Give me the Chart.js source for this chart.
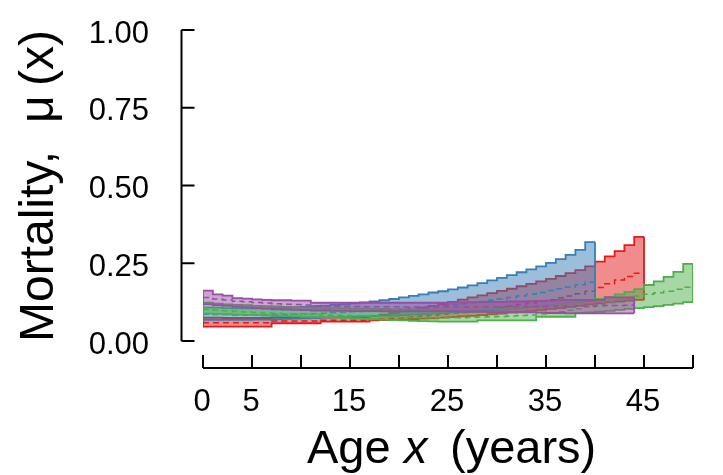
<!DOCTYPE html>
<html>
<head>
<meta charset="utf-8">
<script src="https://cdn.jsdelivr.net/npm/chart.js@4.4.0/dist/chart.umd.min.js"></script>
<style>
  html, body { margin: 0; padding: 0; background: #fff; }
  #wrap { width: 723px; height: 475px; position: relative; }
</style>
</head>
<body>
<div id="wrap"><canvas id="mortalityChart"></canvas></div>
<script>
// Annual mortality estimates per group: lower bound, median, upper bound (age 0 .. end)
const blueUpper = [0.108,0.107,0.106,0.105,0.105,0.105,0.105,0.106,0.107,0.108,
  0.110,0.112,0.114,0.116,0.118,0.121,0.124,0.127,0.131,0.135,
  0.140,0.145,0.150,0.156,0.160,0.166,0.172,0.179,0.186,0.195,
  0.203,0.212,0.221,0.230,0.240,0.251,0.263,0.277,0.293,0.318];
const blueMedian = [0.086,0.085,0.085,0.084,0.084,0.084,0.084,0.085,0.085,0.086,
  0.087,0.088,0.089,0.091,0.092,0.094,0.095,0.097,0.099,0.101,
  0.103,0.106,0.108,0.111,0.114,0.117,0.120,0.123,0.127,0.131,
  0.135,0.140,0.145,0.150,0.156,0.162,0.168,0.174,0.181,0.189];
const blueLower = [0.068,0.068,0.068,0.068,0.068,0.069,0.069,0.070,0.071,0.072,
  0.073,0.074,0.075,0.076,0.077,0.078,0.079,0.080,0.081,0.082,
  0.083,0.085,0.086,0.088,0.089,0.091,0.093,0.095,0.097,0.099,
  0.101,0.103,0.106,0.108,0.111,0.114,0.117,0.120,0.124,0.128];

const redUpper = [0.075,0.075,0.074,0.074,0.074,0.074,0.074,0.077,0.077,0.077,
  0.077,0.077,0.076,0.076,0.076,0.076,0.076,0.080,0.085,0.090,
  0.095,0.101,0.107,0.113,0.119,0.126,0.133,0.140,0.147,0.154,
  0.161,0.168,0.176,0.184,0.192,0.200,0.209,0.218,0.228,0.240,
  0.255,0.272,0.289,0.308,0.335];
const redMedian = [0.059,0.059,0.059,0.059,0.059,0.059,0.059,0.064,0.064,0.064,
  0.064,0.064,0.067,0.067,0.067,0.067,0.067,0.069,0.071,0.073,
  0.075,0.077,0.080,0.083,0.086,0.089,0.092,0.096,0.100,0.104,
  0.108,0.112,0.117,0.122,0.127,0.133,0.139,0.145,0.152,0.160,
  0.172,0.184,0.196,0.207,0.218];
const redLower = [0.046,0.046,0.046,0.046,0.046,0.046,0.046,0.057,0.057,0.057,
  0.057,0.057,0.062,0.062,0.062,0.062,0.062,0.066,0.067,0.068,
  0.069,0.070,0.072,0.073,0.075,0.077,0.079,0.081,0.083,0.086,
  0.088,0.091,0.094,0.097,0.100,0.103,0.106,0.110,0.114,0.118,
  0.121,0.124,0.127,0.130,0.132];

const greenUpper = [0.123,0.120,0.118,0.116,0.115,0.113,0.112,0.111,0.110,0.109,
  0.108,0.107,0.106,0.106,0.105,0.104,0.104,0.103,0.103,0.102,
  0.102,0.101,0.101,0.101,0.100,0.100,0.100,0.101,0.102,0.103,
  0.104,0.105,0.107,0.109,0.111,0.113,0.116,0.120,0.124,0.129,
  0.135,0.142,0.150,0.158,0.167,0.180,0.192,0.206,0.222,0.248];
const greenMedian = [0.101,0.099,0.097,0.095,0.093,0.092,0.090,0.089,0.088,0.087,
  0.086,0.085,0.084,0.083,0.082,0.081,0.080,0.079,0.078,0.077,
  0.076,0.076,0.075,0.075,0.075,0.075,0.075,0.076,0.077,0.078,
  0.079,0.080,0.082,0.084,0.087,0.090,0.094,0.099,0.104,0.110,
  0.117,0.124,0.131,0.138,0.145,0.150,0.155,0.160,0.166,0.173];
const greenLower = [0.088,0.087,0.086,0.085,0.084,0.083,0.082,0.081,0.080,0.079,
  0.078,0.077,0.076,0.075,0.074,0.072,0.071,0.070,0.068,0.067,
  0.066,0.065,0.064,0.063,0.062,0.062,0.062,0.062,0.066,0.066,
  0.066,0.066,0.066,0.066,0.078,0.078,0.078,0.078,0.090,0.092,
  0.094,0.097,0.100,0.103,0.106,0.109,0.112,0.116,0.120,0.125];

const purpleUpper = [0.162,0.150,0.146,0.138,0.136,0.134,0.132,0.131,0.131,0.130,
  0.130,0.123,0.123,0.123,0.123,0.123,0.123,0.123,0.123,0.123,
  0.123,0.123,0.123,0.123,0.123,0.124,0.124,0.125,0.125,0.126,
  0.126,0.127,0.127,0.128,0.129,0.130,0.132,0.132,0.132,0.132,
  0.132,0.140,0.140,0.140];
const purpleMedian = [0.140,0.135,0.132,0.128,0.126,0.124,0.122,0.120,0.118,0.117,
  0.116,0.113,0.112,0.112,0.111,0.111,0.110,0.110,0.110,0.110,
  0.109,0.109,0.109,0.109,0.109,0.109,0.109,0.109,0.110,0.110,
  0.110,0.110,0.110,0.111,0.111,0.111,0.112,0.112,0.112,0.112,
  0.113,0.114,0.114,0.115];
const purpleLower = [0.118,0.115,0.113,0.110,0.108,0.106,0.104,0.102,0.101,0.100,
  0.099,0.098,0.098,0.097,0.097,0.096,0.096,0.096,0.095,0.095,
  0.095,0.095,0.095,0.095,0.095,0.095,0.094,0.094,0.094,0.093,
  0.093,0.093,0.092,0.092,0.091,0.090,0.090,0.089,0.089,0.089,
  0.089,0.089,0.089,0.089];

// Axis ticks
const yTicks = [0, 0.25, 0.5, 0.75, 1];
const xTickMarks = [0, 5, 10, 15, 20, 25, 30, 35, 40, 45, 50];
const xTickLabels = [0, 5, 15, 25, 35, 45];

const FONT = '"Liberation Sans", Arial, sans-serif';

// one value per year, held until the next year; last value carried to the end age
function stepPoints(values) {
    const pts = values.map((v, i) => ({ x: i, y: v }));
    pts.push({ x: values.length, y: values[values.length - 1] });
    return pts;
}

function bandDatasets(upper, median, lower, color, rgb, layer) {
    const end = upper.length;
    const base = { borderColor: color, borderWidth: 1.8, pointRadius: 0, stepped: true, fill: false };
    return [
        Object.assign({}, base, {
            data: stepPoints(upper),
            fill: '+1',
            backgroundColor: 'rgba(' + rgb + ',0.5)',
            order: layer * 10 + 1
        }),
        Object.assign({}, base, { data: stepPoints(lower), order: layer * 10 }),
        Object.assign({}, base, { data: stepPoints(median), borderDash: [6, 4], borderWidth: 1.5, order: layer * 10 }),
        // closing edges at the first and last age
        Object.assign({}, base, { data: [{ x: 0, y: lower[0] }, { x: 0, y: upper[0] }], stepped: false, order: layer * 10 }),
        Object.assign({}, base, { data: [{ x: end, y: lower[end - 1] }, { x: end, y: upper[end - 1] }], stepped: false, order: layer * 10 })
    ];
}

const datasets = [].concat(
    bandDatasets(purpleUpper, purpleMedian, purpleLower, '#984EA3', '152,78,163', 1),
    bandDatasets(greenUpper, greenMedian, greenLower, '#4DAF4A', '77,175,74', 2),
    bandDatasets(blueUpper, blueMedian, blueLower, '#377EB8', '55,126,184', 3),
    bandDatasets(redUpper, redMedian, redLower, '#E41A1C', '228,26,28', 4)
);

// R-style axes, set off from the plotting region with inward ticks
const detachedAxes = {
    id: 'detachedAxes',
    afterDraw(chart) {
        const { ctx, scales: { x, y } } = chart;
        ctx.save();
        ctx.strokeStyle = '#000';
        ctx.fillStyle = '#000';
        ctx.lineWidth = 2;

        const yAxisX = 181.5;
        ctx.beginPath();
        ctx.moveTo(yAxisX, y.getPixelForValue(1));
        ctx.lineTo(yAxisX, y.getPixelForValue(0));
        ctx.stroke();
        ctx.font = '31px ' + FONT;
        ctx.textAlign = 'right';
        ctx.textBaseline = 'middle';
        yTicks.forEach(v => {
            const py = y.getPixelForValue(v);
            ctx.beginPath();
            ctx.moveTo(yAxisX, py);
            ctx.lineTo(yAxisX + 13, py);
            ctx.stroke();
            ctx.fillText(v.toFixed(2), 149, py + 4);
        });

        const xAxisY = 368;
        ctx.beginPath();
        ctx.moveTo(x.getPixelForValue(0), xAxisY);
        ctx.lineTo(x.getPixelForValue(50), xAxisY);
        ctx.stroke();
        xTickMarks.forEach(v => {
            const px = x.getPixelForValue(v);
            ctx.beginPath();
            ctx.moveTo(px, xAxisY);
            ctx.lineTo(px, xAxisY - 13);
            ctx.stroke();
        });
        ctx.textAlign = 'center';
        xTickLabels.forEach(v => {
            ctx.fillText(String(v), x.getPixelForValue(v) - 1, 402);
        });

        // x title: Age x (years)
        ctx.textAlign = 'left';
        ctx.textBaseline = 'alphabetic';
        ctx.font = '47px ' + FONT;
        ctx.fillText('Age', 307, 463);
        ctx.font = 'italic 47px ' + FONT;
        ctx.fillText('x', 404, 463);
        ctx.font = '47px ' + FONT;
        ctx.fillText('(years)', 450, 463);

        // y title: Mortality, mu(x)
        ctx.font = '48px ' + FONT;
        ctx.translate(53, 342);
        ctx.rotate(-Math.PI / 2);
        ctx.fillText('Mortality,', 0, 0);
        ctx.fillText('\u03BC', 219, 0);
        ctx.fillText('(x)', 256, 0);
        ctx.restore();
    }
};

new Chart(document.getElementById('mortalityChart'), {
    type: 'line',
    data: { datasets: datasets },
    options: {
        responsive: true,
        maintainAspectRatio: false,
        animation: false,
        layout: { padding: { left: 203, right: 30, top: 30, bottom: 134 } },
        plugins: {
            legend: { display: false },
            tooltip: { enabled: false }
        },
        scales: {
            x: { type: 'linear', min: 0, max: 50, display: false },
            y: { type: 'linear', min: 0, max: 1, display: false }
        }
    },
    plugins: [detachedAxes]
});
</script>
</body>
</html>
